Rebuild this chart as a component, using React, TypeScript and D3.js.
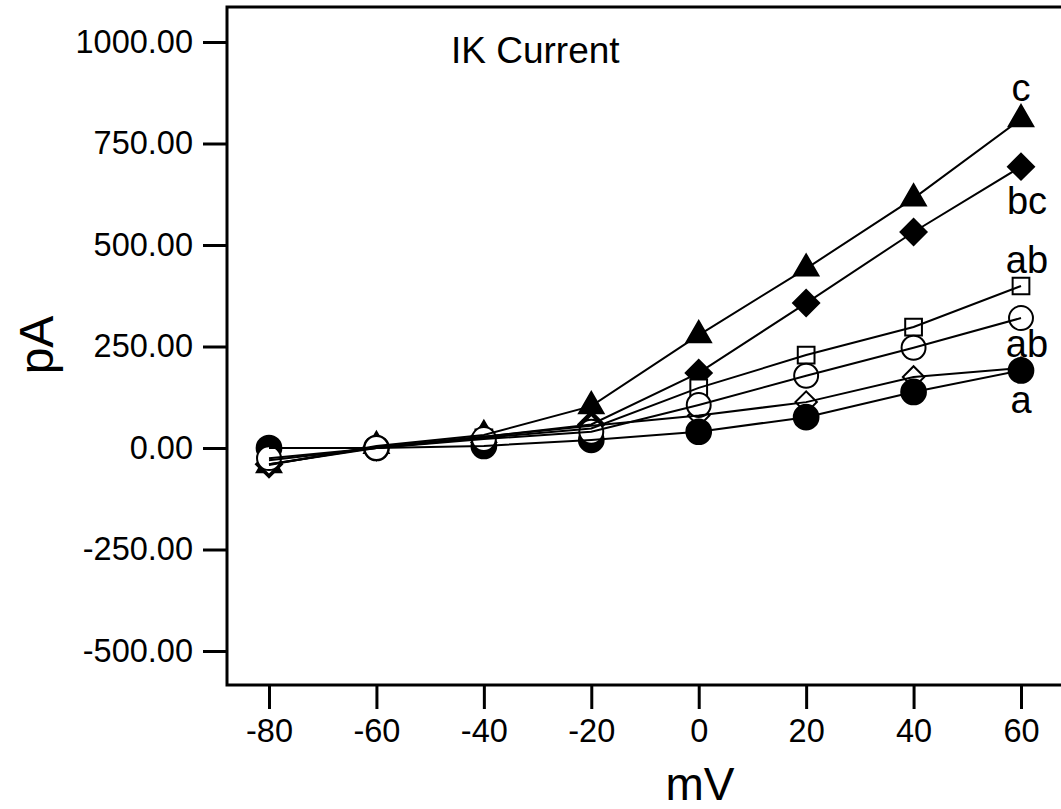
import React, { useEffect, useRef } from 'react';
import * as d3 from 'd3';

// membrane potential steps (mV)
const voltages = [-80, -60, -40, -20, 0, 20, 40, 60];

// current (pA) per group
const filledTriangle = [-42, 5, 32, 103, 278, 442, 615, 810];
const filledDiamond = [-40, 2, 28, 58, 185, 357, 532, 693];
const openSquare = [-30, 0, 25, 48, 148, 229, 298, 399];
const openCircle = [-25, 0, 22, 40, 106, 178, 247, 320];
const openDiamond = [-40, 0, 28, 55, 80, 113, 175, 197];
const filledCircle = [0, 0, 5, 20, 40, 76, 138, 191];

// significance letters at the last step
const groupLetters = ['c', 'bc', 'ab', 'ab', '', 'a'];

const yTicks = [-500, -250, 0, 250, 500, 750, 1000];

const App = () => {
  const ref = useRef<SVGSVGElement>(null);

  useEffect(() => {
    const svg = d3.select(ref.current);
    svg.selectAll('*').remove();

    const width = 1061;
    const height = 809;
    const frame = { left: 227, top: 7, right: 1070, bottom: 685 };
    const font = 'Liberation Sans, Arial, sans-serif';

    const x = d3.scaleLinear().domain([-80, 60]).range([269, 1021]);
    const y = d3.scaleLinear().domain([0, 1000]).range([448, 42]);

    const series = [
      { name: 'triangle', values: filledTriangle, shape: d3.symbolTriangle, size: 260, filled: true, letter: groupLetters[0], dy: -18 },
      { name: 'diamondF', values: filledDiamond, shape: d3.symbolSquare, size: 340, filled: true, rotate: 45, letter: groupLetters[1], dy: 47 },
      { name: 'diamondO', values: openDiamond, shape: d3.symbolSquare, size: 230, filled: false, rotate: 45, letter: groupLetters[4], dy: 0 },
      { name: 'circleF', values: filledCircle, shape: d3.symbolCircle, size: 480, filled: true, letter: groupLetters[5], dy: 43 },
      { name: 'square', values: openSquare, shape: d3.symbolSquare, size: 280, filled: false, letter: groupLetters[2], dy: -13 },
      { name: 'circleO', values: openCircle, shape: d3.symbolCircle, size: 450, filled: false, letter: groupLetters[3], dy: 39 },
    ];

    svg.attr('width', width).attr('height', height);

    // frame
    svg.append('rect')
      .attr('x', frame.left)
      .attr('y', frame.top)
      .attr('width', frame.right - frame.left)
      .attr('height', frame.bottom - frame.top)
      .attr('fill', 'none')
      .attr('stroke', '#000')
      .attr('stroke-width', 3);

    // plain hyphen for negatives, like the original
    const fmtY = (d: number) => d3.format('.2f')(d).replace('\u2212', '-');
    const fmtX = (d: number) => String(d);

    // y axis
    const yAxis = svg.append('g')
      .attr('transform', `translate(${frame.left},0)`)
      .call(d3.axisLeft(y).tickValues(yTicks).tickSize(24).tickPadding(10).tickFormat(fmtY));
    yAxis.select('.domain').remove();
    yAxis.selectAll('line').attr('stroke-width', 3);
    yAxis.selectAll('text')
      .attr('font-family', font)
      .attr('font-size', 32.5)
      .attr('fill', '#000');

    // x axis
    const xAxis = svg.append('g')
      .attr('transform', `translate(0,${frame.bottom})`)
      .call(d3.axisBottom(x).tickValues(voltages).tickSize(24).tickPadding(10).tickFormat(fmtX));
    xAxis.select('.domain').remove();
    xAxis.selectAll('line').attr('stroke-width', 3);
    xAxis.selectAll('text')
      .attr('font-family', font)
      .attr('font-size', 32.5)
      .attr('fill', '#000');

    // axis titles
    svg.append('text')
      .attr('x', 700)
      .attr('y', 800)
      .attr('text-anchor', 'middle')
      .attr('font-family', font)
      .attr('font-size', 46)
      .text('mV');

    svg.append('text')
      .attr('transform', 'translate(53,345) rotate(-90)')
      .attr('text-anchor', 'middle')
      .attr('font-family', font)
      .attr('font-size', 48)
      .text('pA');

    svg.append('text')
      .attr('x', 451)
      .attr('y', 63)
      .attr('font-family', font)
      .attr('font-size', 37)
      .text('IK Current');

    const line = d3.line<number>()
      .x((d, i) => x(voltages[i]))
      .y(d => y(d));

    // markers
    series.forEach(s => {
      svg.append('g')
        .selectAll('path')
        .data(s.values)
        .enter().append('path')
        .attr('d', d3.symbol().type(s.shape).size(s.size)())
        .attr('transform', (d, i) => `translate(${x(voltages[i])},${y(d)}) rotate(${s.rotate || 0})`)
        .attr('fill', s.filled ? '#000' : '#fff')
        .attr('stroke', '#000')
        .attr('stroke-width', 2);
    });

    // connecting lines
    series.forEach(s => {
      svg.append('path')
        .datum(s.values)
        .attr('d', line)
        .attr('fill', 'none')
        .attr('stroke', '#000')
        .attr('stroke-width', 2);
    });

    // letters
    series.filter(s => s.letter).forEach(s => {
      svg.append('text')
        .attr('x', x(60) + (s.letter.length > 1 ? 6 : 0))
        .attr('y', y(s.values[s.values.length - 1]) + s.dy)
        .attr('text-anchor', 'middle')
        .attr('font-family', font)
        .attr('font-size', 38)
        .text(s.letter);
    });
  }, []);

  return (
    <svg ref={ref} style={{ position: 'absolute', left: 0, top: 0, background: '#fff' }}></svg>
  );
};

export default App;
